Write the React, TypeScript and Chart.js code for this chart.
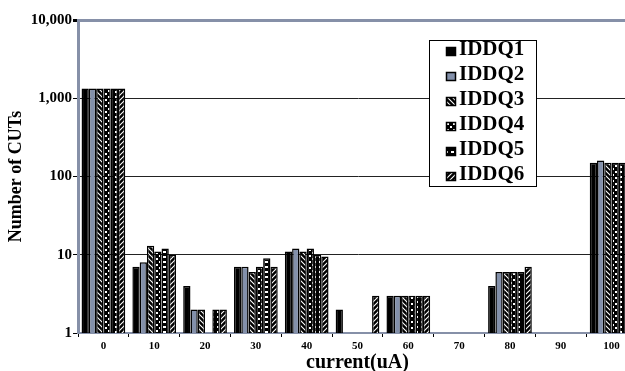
import React, { useEffect, useRef } from 'react';
import { Chart, registerables } from 'chart.js';

Chart.register(...registerables);

const categories = ['0', '10', '20', '30', '40', '50', '60', '70', '80', '90', '100'];
const seriesNames = ['IDDQ1', 'IDDQ2', 'IDDQ3', 'IDDQ4', 'IDDQ5', 'IDDQ6'];
const iddq1 = [1330, 7, 4, 7, 11, 2, 3, null, 4, null, 150];
const iddq2 = [1330, 8, 2, 7, 12, null, 3, null, 6, null, 160];
const iddq3 = [1330, 13, 2, 6, 11, null, 3, null, 6, null, 150];
const iddq4 = [1330, 11, null, 7, 12, null, 3, null, 6, null, 150];
const iddq5 = [1330, 12, 2, 9, 10, null, 3, null, 6, null, 150];
const iddq6 = [1330, 10, 2, 7, 9.5, 3, 3, null, 7, null, 150];
const yTicks = [1, 10, 100, 1000, 10000];

const AXIS_BLUE = '#8690a8';
const FONT = "'Liberation Serif', 'Times New Roman', serif";

function makePattern(kind: string): CanvasPattern | string {
  const c = document.createElement('canvas');
  const ctx = c.getContext('2d');
  if (!ctx) return '#000';
  if (kind === 'back') {
    c.width = 5; c.height = 5;
    ctx.fillStyle = '#000'; ctx.fillRect(0, 0, 5, 5);
    ctx.strokeStyle = '#fff'; ctx.lineWidth = 1.1;
    ctx.beginPath();
    ctx.moveTo(-1, -1); ctx.lineTo(6, 6);
    ctx.moveTo(-1, 4); ctx.lineTo(1, 6);
    ctx.moveTo(4, -1); ctx.lineTo(6, 1);
    ctx.stroke();
  } else if (kind === 'fwd') {
    c.width = 5; c.height = 5;
    ctx.fillStyle = '#000'; ctx.fillRect(0, 0, 5, 5);
    ctx.strokeStyle = '#fff'; ctx.lineWidth = 1.1;
    ctx.beginPath();
    ctx.moveTo(-1, 6); ctx.lineTo(6, -1);
    ctx.moveTo(-1, 1); ctx.lineTo(1, -1);
    ctx.moveTo(4, 6); ctx.lineTo(6, 4);
    ctx.stroke();
  } else if (kind === 'brick') {
    c.width = 6; c.height = 6;
    ctx.fillStyle = '#000'; ctx.fillRect(0, 0, 6, 6);
    ctx.fillStyle = '#fff';
    ctx.fillRect(0, 0, 2, 2);
    ctx.fillRect(3, 3, 2, 2);
  } else {
    c.width = 6; c.height = 5;
    ctx.fillStyle = '#000'; ctx.fillRect(0, 0, 6, 5);
    ctx.fillStyle = '#fff';
    ctx.fillRect(1, 1, 3, 2);
  }
  return ctx.createPattern(c, 'repeat') || '#000';
}

const boxLegend = {
  id: 'boxLegend',
  afterDatasetsDraw(chart: any) {
    const ctx = chart.ctx as CanvasRenderingContext2D;
    ctx.save();
    const x0 = 429.5, y0 = 40.5, w = 107, h = 146;
    ctx.fillStyle = '#fff';
    ctx.fillRect(x0, y0, w, h);
    ctx.strokeStyle = '#000';
    ctx.lineWidth = 1;
    ctx.strokeRect(x0, y0, w, h);
    ctx.font = `bold 21px ${FONT}`;
    ctx.textBaseline = 'middle';
    ctx.textAlign = 'left';
    chart.data.datasets.forEach((ds: any, i: number) => {
      const cy = 50 + i * 25;
      ctx.fillStyle = ds.backgroundColor;
      ctx.fillRect(446, cy - 3, 10, 9);
      ctx.strokeStyle = '#000';
      ctx.lineWidth = 1.5;
      ctx.strokeRect(446.5, cy - 2.5, 9, 8);
      ctx.fillStyle = '#000';
      ctx.fillText(ds.label, 459, cy);
    });
    ctx.restore();
  },
};

export default function App() {
  const ref = useRef<HTMLCanvasElement | null>(null);

  useEffect(() => {
    if (!ref.current) return;
    Chart.defaults.font.family = FONT;
    Chart.defaults.color = '#000';
    const fills = ['#000', '#8390aa', makePattern('back'), makePattern('brick'), makePattern('dash'), makePattern('fwd')];
    const seriesData = [iddq1, iddq2, iddq3, iddq4, iddq5, iddq6];
    const chart = new Chart(ref.current, {
      type: 'bar',
      data: {
        labels: categories,
        datasets: seriesNames.map((name, i) => ({
          label: name,
          data: seriesData[i] as any,
          backgroundColor: fills[i] as any,
          borderColor: '#000',
          borderWidth: 1.5,
          categoryPercentage: 0.86,
          barPercentage: 1.0,
        })),
      },
      options: {
        responsive: false,
        animation: false,
        layout: { padding: { top: 20, right: 3, bottom: 0, left: 0 } },
        plugins: { legend: { display: false }, tooltip: { enabled: false } },
        scales: {
          x: {
            grid: { display: true, drawOnChartArea: false, drawTicks: true, tickLength: 4, color: '#000', offset: true },
            border: { display: true, color: AXIS_BLUE, width: 2 },
            ticks: { font: { size: 11, weight: 'bold' }, color: '#000', padding: 3, maxRotation: 0, autoSkip: false },
            title: { display: true, text: 'current(uA)', font: { size: 20, weight: 'bold', lineHeight: 0.8 }, color: '#000', padding: 0 },
            afterFit: (s: any) => { s.height = 38; },
          } as any,
          y: {
            type: 'logarithmic',
            min: 1,
            max: 10000,
            afterBuildTicks: (axis: any) => { axis.ticks = yTicks.map((v) => ({ value: v })); },
            ticks: {
              callback: (v: any) => Number(v).toLocaleString('en-US'),
              font: { size: 15, weight: 'bold' },
              color: '#000',
              padding: 1,
            },
            grid: {
              color: (c: any) => (c.tick && c.tick.value === 10000 ? AXIS_BLUE : c.tick && c.tick.value === 1 ? 'rgba(0,0,0,0)' : '#222'),
              lineWidth: (c: any) => (c.tick && c.tick.value === 10000 ? 3 : 1),
              tickColor: '#000',
              tickLength: 5,
              drawTicks: true,
            },
            border: { color: AXIS_BLUE, width: 3 },
            title: { display: true, text: 'Number of CUTs', font: { size: 18, weight: 'bold' }, color: '#000', padding: { top: 6, bottom: 0 } },
            afterFit: (s: any) => { s.width = 78; },
          } as any,
        },
      },
      plugins: [boxLegend],
    });
    return () => chart.destroy();
  }, []);

  return (
    <div style={{ position: 'fixed', left: 0, top: 0, width: 625, height: 371, overflow: 'hidden', background: '#fff' }}>
      <canvas ref={ref} width={640} height={371} style={{ display: 'block', width: 640, height: 371 }} />
    </div>
  );
}
